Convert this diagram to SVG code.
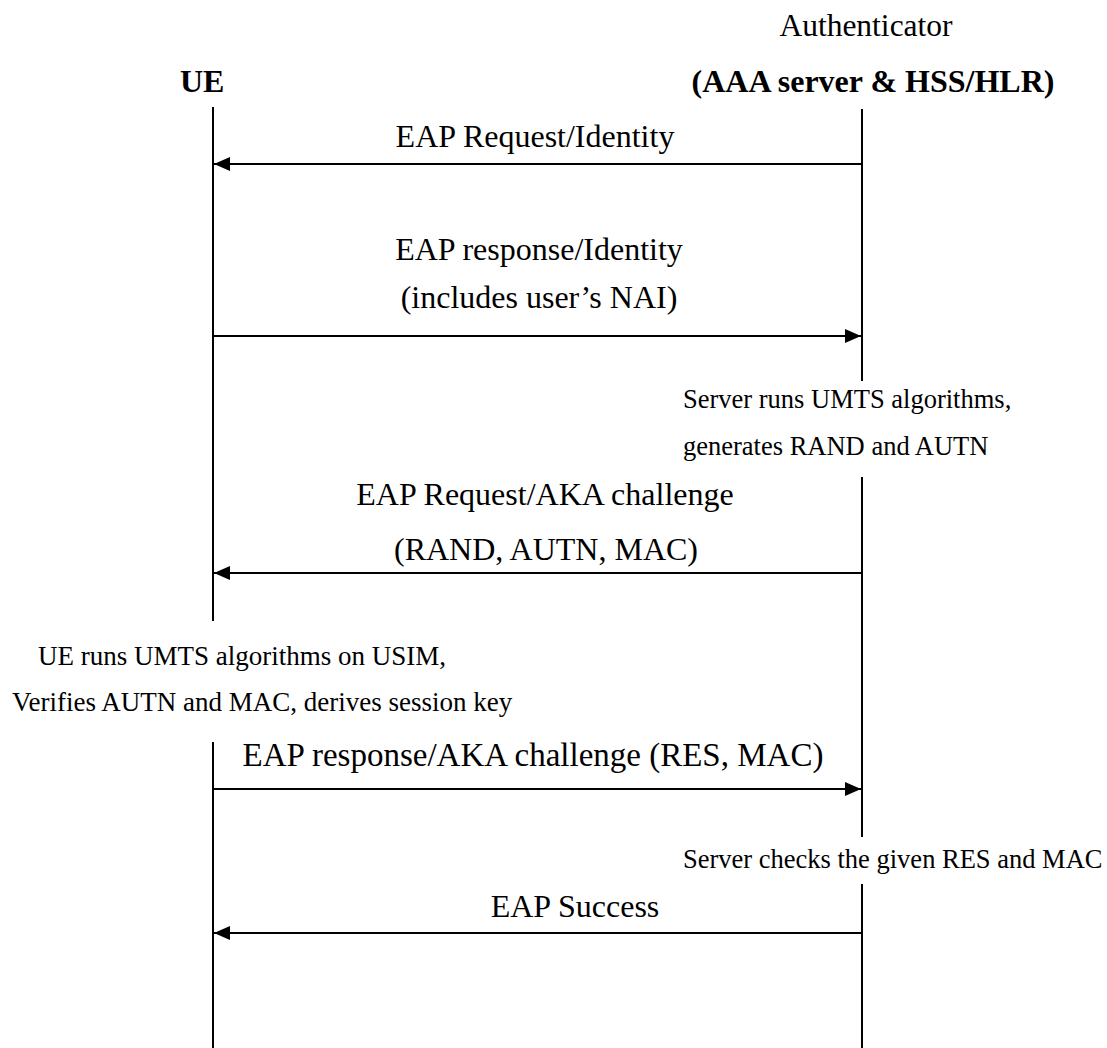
<svg xmlns="http://www.w3.org/2000/svg" width="1107" height="1048" viewBox="0 0 1107 1048">
<style>
text{font-family:"Liberation Serif","Times New Roman",serif;fill:#000}
.hdr{font-size:32px;font-weight:bold}
.hdr2{font-size:31.5px}
.msg{font-size:32px;text-anchor:middle}
.note{font-size:26.5px}
.note-ue{font-size:27px}
.life{stroke:#000;stroke-width:2;fill:none}
.arr{stroke:#000;stroke-width:2.2;fill:none}
</style>
<defs>
<marker id="ah" viewBox="0 0 16 14" refX="16" refY="7" markerWidth="16" markerHeight="14" markerUnits="userSpaceOnUse" orient="auto">
<path d="M0,0 L16,7 L0,14 Z" fill="#000"/>
</marker>
</defs>
<rect width="1107" height="1048" fill="#fff"/>
<g id="ue">
<text class="hdr" x="180" y="92">UE</text>
<line class="life" x1="213" y1="107" x2="213" y2="621"/>
<line class="life" x1="213" y1="742" x2="213" y2="1048"/>
</g>
<g id="authenticator">
<text class="hdr2" x="866" y="36" text-anchor="middle">Authenticator</text>
<text class="hdr" x="873" y="92" text-anchor="middle">(AAA server &amp; HSS/HLR)</text>
<line class="life" x1="862" y1="109" x2="862" y2="381"/>
<line class="life" x1="862" y1="477" x2="862" y2="837"/>
<line class="life" x1="862" y1="884" x2="862" y2="1048"/>
</g>
<g id="note-server-1">
<text class="note" x="683" y="408">Server runs UMTS algorithms,</text>
<text class="note" x="683" y="455">generates RAND and AUTN</text>
</g>
<g id="note-ue">
<text class="note-ue" x="38" y="665">UE runs UMTS algorithms on USIM,</text>
<text class="note-ue" x="12" y="711">Verifies AUTN and MAC, derives session key</text>
</g>
<g id="note-server-2">
<text class="note" x="683" y="868">Server checks the given RES and MAC</text>
</g>
<g id="connectors">
<line class="arr" x1="862" y1="164" x2="214" y2="164" marker-end="url(#ah)"/>
<text class="msg" x="535" y="147">EAP Request/Identity</text>
<line class="arr" x1="213" y1="336" x2="861" y2="336" marker-end="url(#ah)"/>
<text class="msg" x="539" y="260">EAP response/Identity</text>
<text class="msg" x="539" y="308">(includes user’s NAI)</text>
<line class="arr" x1="862" y1="573" x2="214" y2="573" marker-end="url(#ah)"/>
<text class="msg" x="545" y="505">EAP Request/AKA challenge</text>
<text class="msg" x="546" y="560">(RAND, AUTN, MAC)</text>
<line class="arr" x1="213" y1="789" x2="861" y2="789" marker-end="url(#ah)"/>
<text class="msg" x="533" y="766" style="font-size:33px">EAP response/AKA challenge (RES, MAC)</text>
<line class="arr" x1="862" y1="933" x2="214" y2="933" marker-end="url(#ah)"/>
<text class="msg" x="575" y="917">EAP Success</text>
</g>
</svg>
